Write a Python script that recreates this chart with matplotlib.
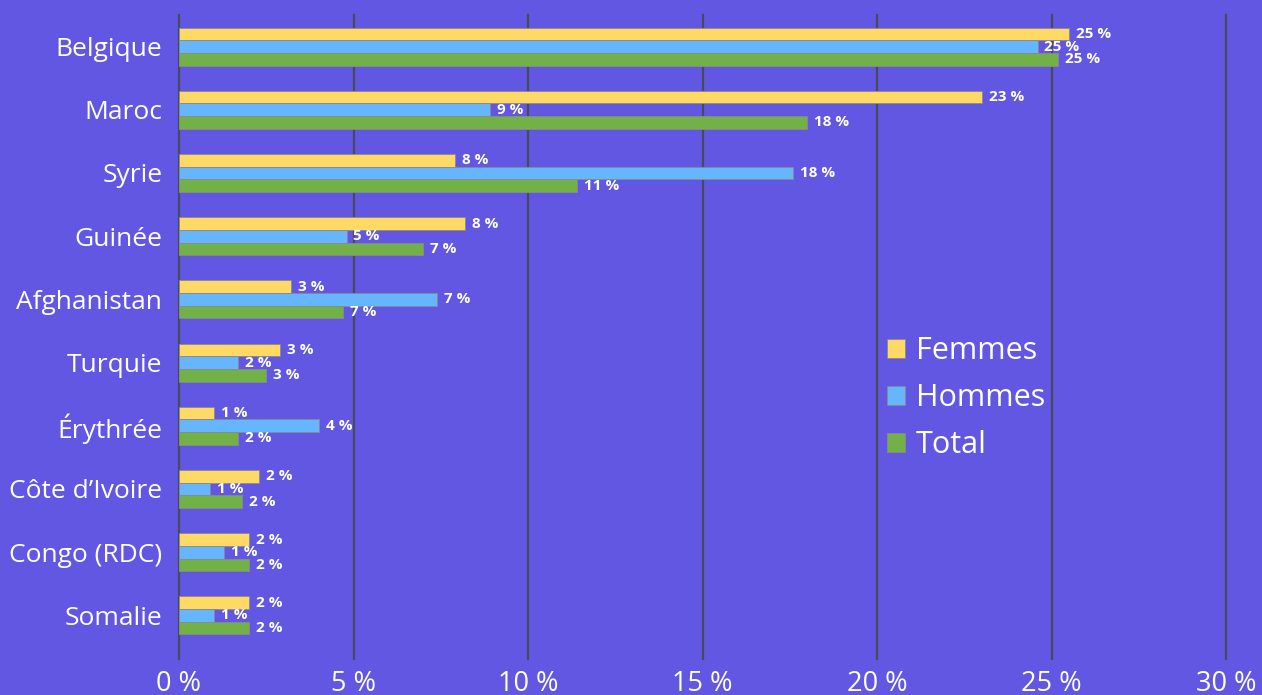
import matplotlib.pyplot as plt
import numpy as np

pays = ["Belgique", "Maroc", "Syrie", "Guinée", "Afghanistan", "Turquie",
        "Érythrée", "Côte d’Ivoire", "Congo (RDC)", "Somalie"]
femmes = [25.5, 23.0, 7.9, 8.2, 3.2, 2.9, 1.0, 2.3, 2.0, 2.0]
hommes = [24.6, 8.9, 17.6, 4.8, 7.4, 1.7, 4.0, 0.9, 1.3, 1.0]
total = [25.2, 18.0, 11.4, 7.0, 4.7, 2.5, 1.7, 1.8, 2.0, 2.0]
# étiquettes telles qu'affichées sur le graphique d'origine
lab_femmes = ["25 %", "23 %", "8 %", "8 %", "3 %", "3 %", "1 %", "2 %", "2 %", "2 %"]
lab_hommes = ["25 %", "9 %", "18 %", "5 %", "7 %", "2 %", "4 %", "1 %", "1 %", "1 %"]
lab_total = ["25 %", "18 %", "11 %", "7 %", "7 %", "3 %", "2 %", "2 %", "2 %", "2 %"]
xticks = [0, 5, 10, 15, 20, 25, 30]

bg = "#6257E2"
plt.rcParams['font.family'] = ['Open Sans', 'Noto Sans', 'DejaVu Sans']

fig = plt.figure(figsize=(12.62, 6.95), dpi=100, facecolor=bg)
ax = fig.add_axes([179 / 1262, 36 / 695, 1047 / 1262, 644 / 695])
ax.set_facecolor(bg)

y = np.arange(len(pays))
h = 0.2
series = [
    (femmes, lab_femmes, "#FFD966", "Femmes", -h),
    (hommes, lab_hommes, "#66B5FF", "Hommes", 0),
    (total, lab_total, "#72B048", "Total", h),
]
for vals, labs, col, name, off in series:
    bars = ax.barh(y + off, vals, height=h, color=col, edgecolor="#8a8a8a",
                   linewidth=0.6, label=name, zorder=3)
    ax.bar_label(bars, labels=labs, padding=5, color="white", fontsize=11,
                 fontweight="bold", zorder=4)

ax.set_xlim(0, 30)
ax.set_ylim(9.69, -0.5)
ax.set_xticks(xticks)
ax.set_xticklabels(["{} %".format(v) for v in xticks], color="white", fontsize=19.5)
ax.set_yticks(y)
ax.set_yticklabels(pays, color="white", fontsize=19)
ax.tick_params(length=0)
ax.tick_params(axis="y", pad=12)
ax.tick_params(axis="x", pad=8)
ax.grid(axis="x", color="#474A5C", linewidth=1.6, zorder=0)
for gl in ax.get_xgridlines():
    gl.set_clip_on(False)
for s in ax.spines.values():
    s.set_visible(False)

leg = ax.legend(loc="center left", bbox_to_anchor=(0.65, 0.405), frameon=False,
                fontsize=22, handlelength=0.6, handleheight=0.6,
                handletextpad=0.35, labelspacing=0.56, labelcolor="white")

fig.savefig("out.png", dpi=100, facecolor=bg)
